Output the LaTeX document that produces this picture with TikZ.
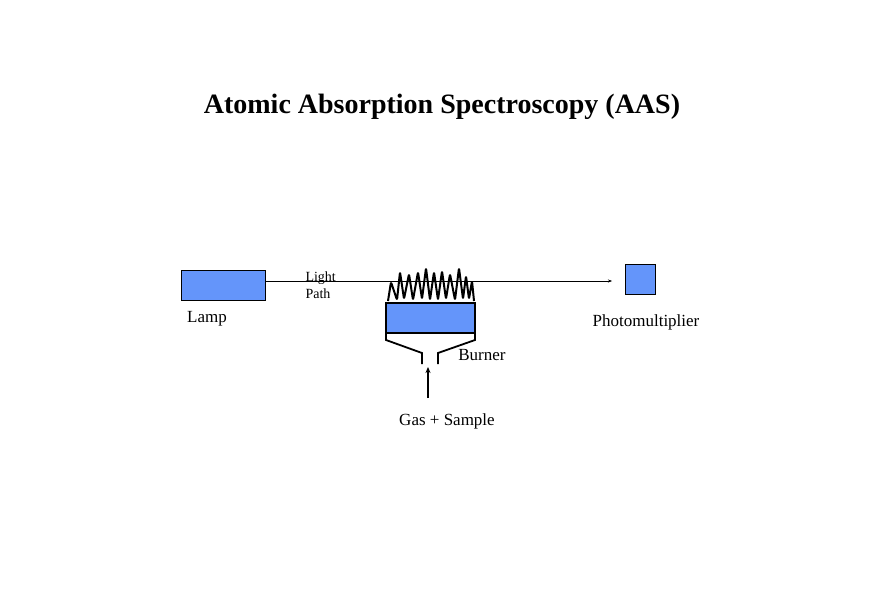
\documentclass[tikz,border=0pt]{standalone}
\usepackage{fontspec}
\setmainfont{Liberation Serif}
\usetikzlibrary{arrows.meta}
\definecolor{boxblue}{RGB}{100,149,250}
\begin{document}
\begin{tikzpicture}[x=1pt,y=-1pt,
    box/.style={draw=black, fill=boxblue},
    lbl/.style={font=\fontsize{17}{20}\selectfont}]
                \useasboundingbox (0,0) rectangle (870,600);
                \node[font=\bfseries\fontsize{28}{32}\selectfont] (title) at (442,107) {Atomic Absorption Spectroscopy (AAS)};

                \draw[box] (181,270) rectangle (265,300); % lamp
                \coordinate (Lamp) at (265,281);
                \node[lbl] (lamplbl) at (207,319) {Lamp};
                \coordinate (Detector) at (612,281);
                \draw[box] (625,264) rectangle (655,294); % photomultiplier
                \node[lbl] (pmlbl) at (646,322) {Photomultiplier};

                \draw[-{Stealth[length=4pt,width=3pt]}] (Lamp)--(Detector); % light path
                \node[font=\fontsize{14}{17}\selectfont, align=left, anchor=west] (pathlbl) at (302,285) {Light\\Path};

                \draw[box, line width=1.8pt] (386,303) rectangle (475,333); % burner
                \draw[line width=1.8pt] (386,333)--(386,340)--(422,353)--(422,364);
                \draw[line width=1.8pt] (475,333)--(475,340)--(438,353)--(438,364);
                \draw[line width=2pt, line join=round, rounded corners=2pt] (388,301)--(391,282)--(397,300)--(400,272)--(404,299)--(409,274)--(413,300)--(418,272)--(422,299)--(426,268)--(430,300)--(434,272)--(438,300)--(442,271)--(446,299)--(450,274)--(455,300)--(459,268)--(463,299)--(466,276)--(469,299)--(472,281)--(474,301); % flame
                \coordinate (Gas) at (428,398);
                \coordinate (Inlet) at (428,367);
                \draw[line width=1.8pt, -{Stealth[length=6pt,width=5pt]}] (Gas)--(Inlet);
                \node[lbl] (burnerlbl) at (482,355) {Burner};
                \node[lbl] (gaslbl) at (447,421) {Gas + Sample};
\end{tikzpicture}
\end{document}
